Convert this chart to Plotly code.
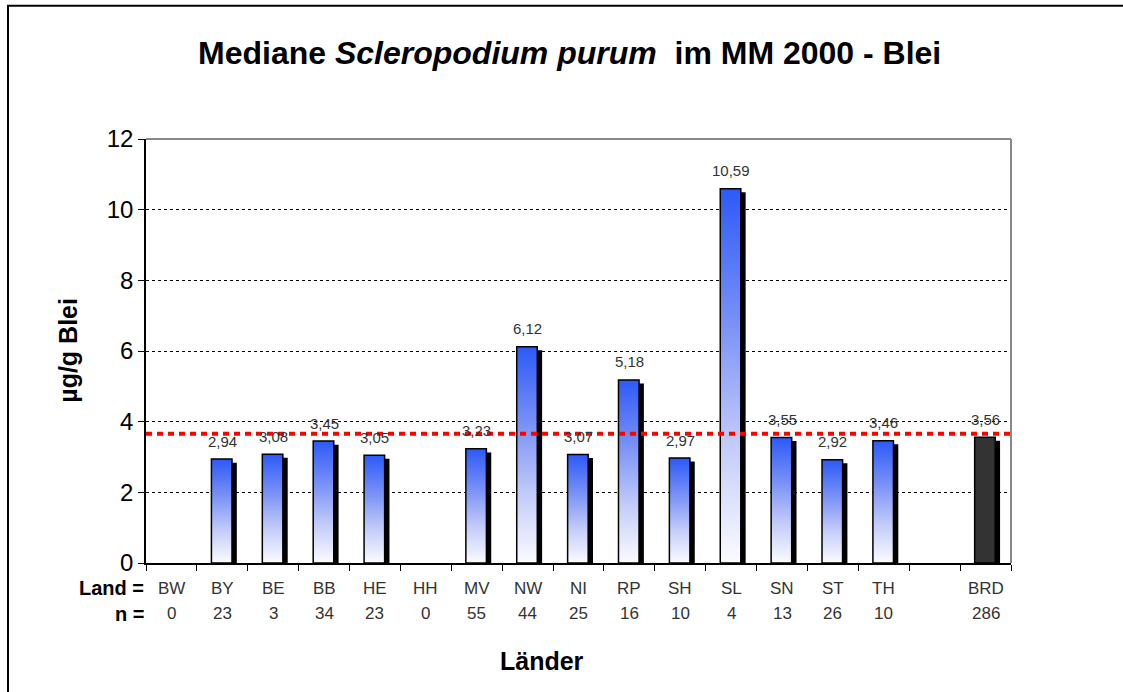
import plotly.graph_objects as go

# Median lead content in Scleropodium purum per federal state (MM 2000)
laender = ["BW", "BY", "BE", "BB", "HE", "HH", "MV", "NW", "NI", "RP",
           "SH", "SL", "SN", "ST", "TH", "", "BRD"]
n_proben = [0, 23, 3, 34, 23, 0, 55, 44, 25, 16, 10, 4, 13, 26, 10, None, 286]
median_blei = [None, 2.94, 3.08, 3.45, 3.05, None, 3.23, 6.12, 3.07, 5.18,
               2.97, 10.59, 3.55, 2.92, 3.46, None, 3.56]
referenz = 3.66
y_ticks = [0, 2, 4, 6, 8, 10, 12]

W, H = 1123, 692
L, R, T, B = 146, 1011, 139, 563.5   # plot area in pixels
FONT = "Arial, Liberation Sans, sans-serif"


def px(x):
    return (x - L) / (R - L)


def py(y):
    return (B - y) / (B - T)


fig = go.Figure()

# bar geometry in category units
front_left, front_right = -0.214, 0.19
shadow_off, shadow_w = -0.10, 0.385
shadow_drop = 0.1

# dark drop shadow behind each bar
sx, sy = [], []
for i, v in enumerate(median_blei):
    if v is not None:
        sx.append(i)
        sy.append(v - shadow_drop)
fig.add_trace(go.Bar(x=sx, y=sy, width=shadow_w, offset=shadow_off,
                     marker=dict(color="black", line=dict(width=0)),
                     hoverinfo="skip", showlegend=False))

blue_scale = [[0.0, "#fbfbff"], [0.3, "#c6cef9"], [0.65, "#7890f6"], [1.0, "#2d5af6"]]

for i, (lab, v) in enumerate(zip(laender, median_blei)):
    if v is None:
        continue
    xs = [i + front_left, i + front_right, i + front_right, i + front_left, i + front_left]
    ys = [0, 0, v, v, 0]
    if lab == "BRD":
        fig.add_trace(go.Scatter(x=xs, y=ys, mode="lines", fill="toself",
                                 fillcolor="#333333",
                                 line=dict(color="black", width=1.5),
                                 hoverinfo="skip", showlegend=False))
    else:
        fig.add_trace(go.Scatter(x=xs, y=ys, mode="lines", fill="toself",
                                 fillgradient=dict(type="vertical", colorscale=blue_scale,
                                                   start=0, stop=v),
                                 line=dict(color="black", width=1.5),
                                 hoverinfo="skip", showlegend=False))

annotations = []

# value labels above bars
for i, v in enumerate(median_blei):
    if v is None:
        continue
    annotations.append(dict(x=i, y=v, xref="x", yref="y",
                            text=f"{v:.2f}".replace(".", ","),
                            showarrow=False, yanchor="middle", yshift=18,
                            font=dict(family=FONT, size=15, color="#333333")))

# category and sample-size rows
for i, (lab, n) in enumerate(zip(laender, n_proben)):
    if lab:
        annotations.append(dict(x=i, y=py(589), xref="x", yref="paper", text=lab,
                                showarrow=False, yanchor="middle",
                                font=dict(family=FONT, size=17, color="#333333")))
    if n is not None:
        annotations.append(dict(x=i, y=py(614), xref="x", yref="paper", text=str(n),
                                showarrow=False, yanchor="middle",
                                font=dict(family=FONT, size=17, color="#333333")))

annotations += [
    dict(x=px(146), y=py(589), xref="paper", yref="paper", text="<b>Land =</b>",
         showarrow=False, xanchor="right", yanchor="middle",
         font=dict(family=FONT, size=20, color="black")),
    dict(x=px(146), y=py(615), xref="paper", yref="paper", text="<b>n =</b>",
         showarrow=False, xanchor="right", yanchor="middle",
         font=dict(family=FONT, size=20, color="black")),
    dict(x=px(542), y=py(662), xref="paper", yref="paper", text="<b>Länder</b>",
         showarrow=False, xanchor="center", yanchor="middle",
         font=dict(family=FONT, size=25, color="black")),
    dict(x=px(68), y=py(351), xref="paper", yref="paper", text="<b>µg/g Blei</b>",
         showarrow=False, xanchor="center", yanchor="middle", textangle=-90,
         font=dict(family=FONT, size=25, color="black")),
    dict(x=px(569), y=py(53), xref="paper", yref="paper",
         text="<b>Mediane <i>Scleropodium purum</i>  im MM 2000 - Blei</b>",
         showarrow=False, xanchor="center", yanchor="middle",
         font=dict(family=FONT, size=32, color="black")),
]

shapes = [
    # grey frame on top and right of the plot area
    dict(type="line", xref="x domain", yref="y domain", x0=0, x1=1, y0=1, y1=1,
         line=dict(color="#888888", width=2), layer="above"),
    dict(type="line", xref="x domain", yref="y domain", x0=1, x1=1, y0=0, y1=1,
         line=dict(color="#888888", width=2), layer="above"),
    # reference line (overall level)
    dict(type="line", xref="x domain", yref="y", x0=0, x1=1, y0=referenz, y1=referenz,
         line=dict(color="#ff0000", width=4, dash="6px,5px"), layer="above"),
    # outer chart border
    dict(type="rect", xref="paper", yref="paper",
         x0=px(8), y0=py(760), x1=px(1200), y1=py(5.5),
         line=dict(color="black", width=2), fillcolor="rgba(0,0,0,0)", layer="below"),
]

fig.update_layout(
    width=W, height=H, autosize=False,
    margin=dict(l=L, r=W - R, t=T, b=H - B, pad=0),
    paper_bgcolor="white", plot_bgcolor="white",
    barmode="overlay",
    showlegend=False,
    annotations=annotations,
    shapes=shapes,
    xaxis=dict(range=[-0.5, len(laender) - 0.5], showgrid=False, zeroline=False,
               showline=True, linecolor="black", linewidth=1.5,
               tickmode="array", tickvals=[i - 0.5 for i in range(len(laender) + 1)],
               ticks="outside", ticklen=6, tickcolor="black", tickwidth=1,
               showticklabels=False, fixedrange=True),
    yaxis=dict(range=[0, 12], tickmode="array", tickvals=y_ticks,
               ticks="outside", ticklen=6, tickcolor="black", tickwidth=1,
               showline=True, linecolor="black", linewidth=1.5,
               showgrid=True, gridcolor="black", gridwidth=1, griddash="3px,3px",
               zeroline=False, tickfont=dict(family=FONT, size=24, color="black"),
               fixedrange=True),
)

fig.write_html("out.html")
